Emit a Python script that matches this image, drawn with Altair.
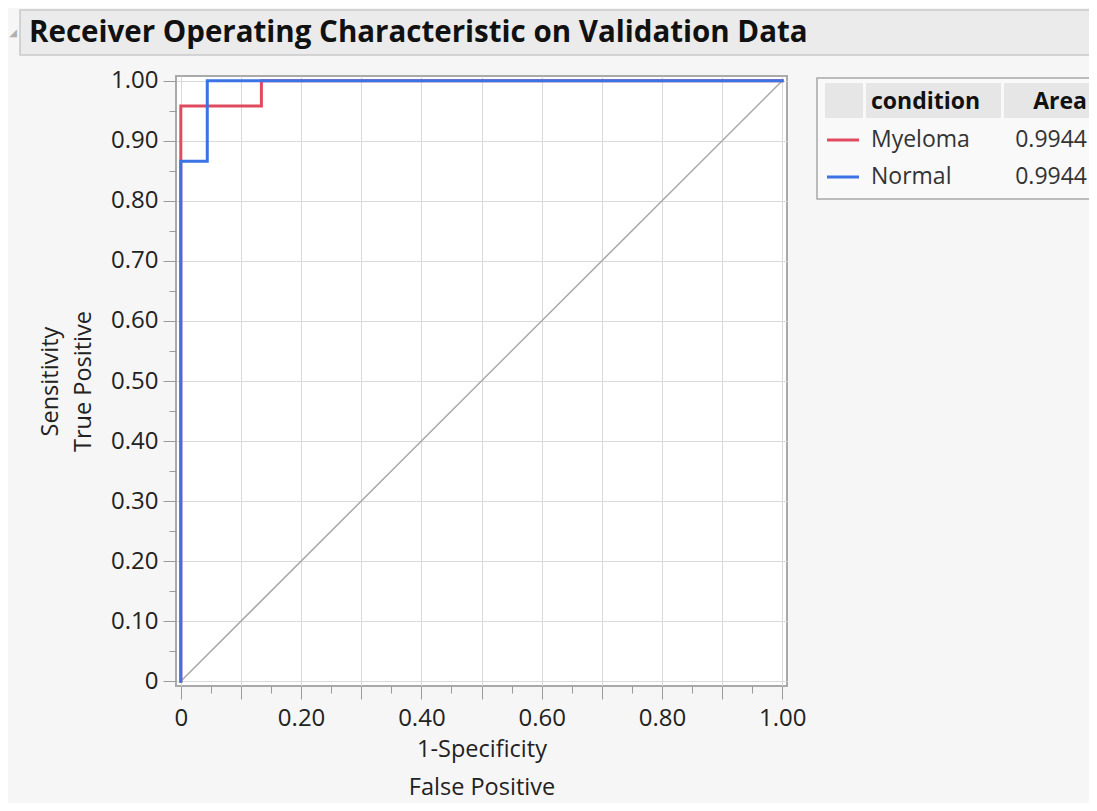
import altair as alt
import pandas as pd

# ---------------- data ----------------
conditions = ["Myeloma", "Normal"]
areas = ["0.9944", "0.9944"]
colors = ["#e04a5f", "#3b72e4"]

myeloma_fpr = [0.0, 0.0, 0.134, 0.134, 1.0]
myeloma_tpr = [0.0, 0.958, 0.958, 1.0, 1.0]
normal_fpr = [0.0, 0.0, 0.044, 0.044, 1.0]
normal_tpr = [0.0, 0.866, 0.866, 1.0, 1.0]

diag_x = [0.0, 1.0]
diag_y = [0.0, 1.0]

major_ticks = [round(i * 0.1, 2) for i in range(11)]
minor_ticks = [round(0.05 + i * 0.1, 2) for i in range(10)]

title_text = "Receiver Operating Characteristic on Validation Data"
x_title = ["1-Specificity", "False Positive"]
y_title = ["Sensitivity", "True Positive"]

FONT = "Open Sans"
W, H = 611, 610
LBL = 24
TTL = 23.5

roc = pd.concat([
    pd.DataFrame({"condition": conditions[0], "fpr": myeloma_fpr, "tpr": myeloma_tpr,
                  "step": range(len(myeloma_fpr))}),
    pd.DataFrame({"condition": conditions[1], "fpr": normal_fpr, "tpr": normal_tpr,
                  "step": range(len(normal_fpr))}),
])
diag = pd.DataFrame({"x": diag_x, "y": diag_y, "step": range(len(diag_x))})
leg = pd.DataFrame({"condition": conditions, "area": areas, "color": colors})

xscale = alt.Scale(domain=[-0.008, 1.008], nice=False, zero=False)
yscale = alt.Scale(domain=[-0.008, 1.008], nice=False, zero=False)

x_major = alt.Axis(
    values=major_ticks, orient="bottom",
    labelExpr="datum.value == 0 ? '0' : (round(datum.value*10) % 2 == 0 ? format(datum.value, '.2f') : '')",
    grid=True, gridColor="#dadada", gridWidth=1, domain=False,
    tickSize=13, tickColor="#9a9a9a", tickWidth=1,
    labelFont=FONT, labelFontSize=LBL, labelColor="#222", labelPadding=7,
    labelOverlap=False, labelFlush=False,
    title=x_title, titleFont=FONT, titleFontSize=TTL, titleFontWeight="normal",
    titleColor="#222", titlePadding=7, titleLineHeight=38,
)
y_major = alt.Axis(
    values=major_ticks, orient="left",
    labelExpr="datum.value == 0 ? '0' : format(datum.value, '.2f')",
    grid=True, gridColor="#dadada", gridWidth=1, domain=False,
    tickSize=13, tickColor="#9a9a9a", tickWidth=1,
    labelFont=FONT, labelFontSize=LBL, labelColor="#222", labelPadding=5,
    labelOverlap=False, labelFlush=False,
    title=y_title, titleFont=FONT, titleFontSize=TTL, titleFontWeight="normal",
    titleColor="#222", titlePadding=15, titleLineHeight=33,
)
x_minor = alt.Axis(values=minor_ticks, orient="bottom", labels=False, grid=False,
                   domain=False, tickSize=7, tickColor="#9a9a9a", title=None)
y_minor = alt.Axis(values=minor_ticks, orient="left", labels=False, grid=False,
                   domain=False, tickSize=7, tickColor="#9a9a9a", title=None)

diag_layer = alt.Chart(diag).mark_line(color="#a8a8a8", strokeWidth=1.5).encode(
    x=alt.X("x:Q", scale=xscale, axis=x_major),
    y=alt.Y("y:Q", scale=yscale, axis=y_major),
    order="step:Q",
)
minor_layer = alt.Chart(diag).mark_line(opacity=0).encode(
    x=alt.X("x:Q", scale=xscale, axis=x_minor),
    y=alt.Y("y:Q", scale=yscale, axis=y_minor),
    order="step:Q",
)

def roc_layer(i):
    return alt.Chart(roc).transform_filter(
        alt.datum.condition == conditions[i]
    ).mark_line(color=colors[i], strokeWidth=3, strokeJoin="miter", strokeCap="square").encode(
        x=alt.X("fpr:Q", scale=xscale, axis=None),
        y=alt.Y("tpr:Q", scale=yscale, axis=None),
        order="step:Q",
    )

one = pd.DataFrame({"a": [0]})

# title bar
title_bar = alt.Chart(one).mark_rect(fill="#ebebeb", stroke="#c9c9c9", strokeWidth=1.5).encode(
    x=alt.value(-156), x2=alt.value(940), y=alt.value(-66), y2=alt.value(-21))
title_tri = alt.Chart(pd.DataFrame({"t": ["◢"]})).mark_text(
    font="DejaVu Sans", fontSize=10, color="#b0b0b0", align="center", baseline="middle"
).encode(x=alt.value(-163), y=alt.value(-43), text="t:N")
title_mark = alt.Chart(pd.DataFrame({"t": [title_text]})).mark_text(
    font=FONT, fontSize=29.5, fontWeight="bold", color="#111", align="left", baseline="middle"
).encode(x=alt.value(-147), y=alt.value(-43), text="t:N")

# legend table
leg_box = alt.Chart(one).mark_rect(fill="#f9f9f9", stroke="#a8a8a8", strokeWidth=1.5).encode(
    x=alt.value(641), x2=alt.value(940), y=alt.value(2), y2=alt.value(123))
hdr_cells = [
    alt.Chart(one).mark_rect(fill="#e6e6e6").encode(
        x=alt.value(a), x2=alt.value(b), y=alt.value(7), y2=alt.value(42))
    for a, b in [(649, 687), (690, 825), (828, 940)]
]
hdr_cond = alt.Chart(pd.DataFrame({"t": ["condition"]})).mark_text(
    font=FONT, fontSize=23, fontWeight="bold", color="#111", align="left", baseline="middle"
).encode(x=alt.value(695), y=alt.value(26), text="t:N")
hdr_area = alt.Chart(pd.DataFrame({"t": ["Area"]})).mark_text(
    font=FONT, fontSize=23, fontWeight="bold", color="#111", align="right", baseline="middle"
).encode(x=alt.value(911), y=alt.value(26), text="t:N")

leg_rows = []
for i, cond in enumerate(conditions):
    yy = 64 + i * 37
    src = alt.Chart(leg).transform_filter(alt.datum.condition == cond)
    leg_rows.append(src.mark_rule(strokeWidth=3).encode(
        x=alt.value(651), x2=alt.value(683), y=alt.value(yy),
        color=alt.Color("color:N", scale=None)))
    leg_rows.append(src.mark_text(font=FONT, fontSize=23, color="#333", align="left",
                                  baseline="middle").encode(
        x=alt.value(695), y=alt.value(yy), text="condition:N"))
    leg_rows.append(src.mark_text(font=FONT, fontSize=23, color="#333", align="right",
                                  baseline="middle").encode(
        x=alt.value(911), y=alt.value(yy), text="area:N"))

chart = alt.layer(
    title_bar, title_tri, title_mark,
    diag_layer, minor_layer, roc_layer(0), roc_layer(1),
    leg_box, *hdr_cells, hdr_cond, hdr_area, *leg_rows,
).resolve_axis(x="independent", y="independent").properties(
    width=W, height=H,
    autosize=alt.AutoSizeParams(type="none"),
    padding={"left": 168, "top": 68, "right": 302, "bottom": 117},
    background="#f6f6f6",
).configure_view(fill="white", stroke="#a9a9a9", strokeWidth=2)

chart.save("out.html", embed_options={"renderer": "svg", "actions": False})
